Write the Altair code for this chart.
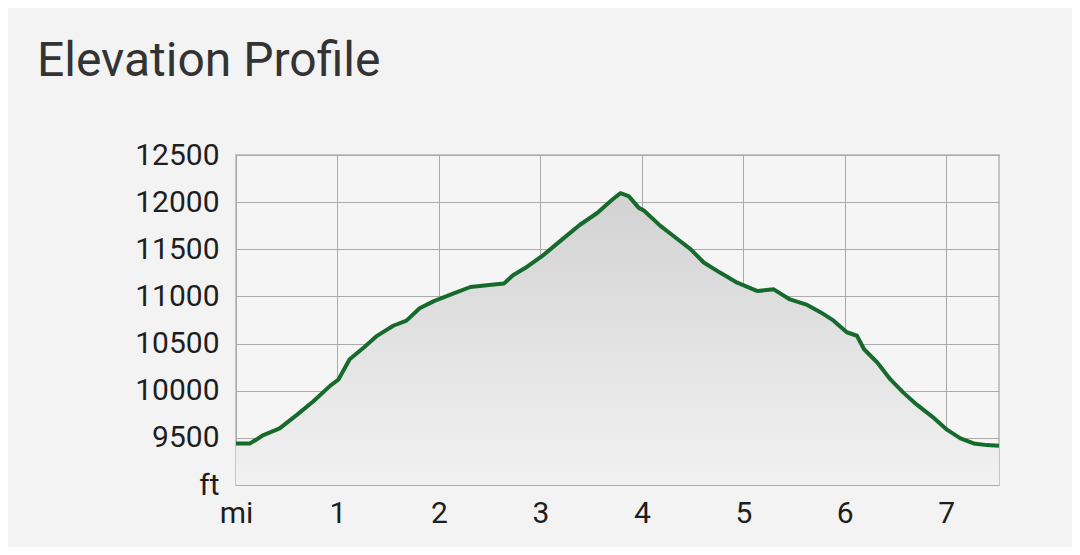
import altair as alt
import pandas as pd

# distance along trail (miles) and elevation (feet)
miles = [0.00, 0.14, 0.27, 0.43, 0.60, 0.76, 0.93, 1.01, 1.12, 1.26, 1.39, 1.55,
         1.68, 1.81, 1.95, 2.14, 2.31, 2.47, 2.64, 2.73, 2.87, 3.03, 3.23, 3.39,
         3.56, 3.71, 3.79, 3.87, 3.97, 4.02, 4.18, 4.35, 4.48, 4.61, 4.77, 4.94,
         5.14, 5.30, 5.46, 5.63, 5.76, 5.89, 6.02, 6.12, 6.19, 6.32, 6.45, 6.58,
         6.71, 6.88, 7.01, 7.14, 7.27, 7.40, 7.52]
elevation = [9440, 9441, 9530, 9600, 9744, 9886, 10054, 10119, 10333, 10458, 10582, 10689,
             10743, 10875, 10950, 11029, 11100, 11118, 11136, 11225, 11315, 11439, 11618, 11760,
             11885, 12028, 12095, 12064, 11939, 11911, 11751, 11609, 11502, 11360, 11253, 11146,
             11057, 11075, 10968, 10910, 10833, 10743, 10620, 10583, 10440, 10299, 10120, 9977,
             9852, 9709, 9584, 9495, 9441, 9423, 9416]

x_ticks = [0, 1, 2, 3, 4, 5, 6, 7]
y_ticks = [9000, 9500, 10000, 10500, 11000, 11500, 12000, 12500]
x_unit = "mi"
y_unit = "ft"
title_text = "Elevation Profile"

df = pd.DataFrame({"mi": miles, "ft": elevation})

FONT = "Roboto"

x_enc = alt.X(
    "mi:Q",
    scale=alt.Scale(domain=[0, 7.52], nice=False, zero=False),
    axis=alt.Axis(
        values=x_ticks,
        labelExpr=f"datum.value == 0 ? '{x_unit}' : datum.label",
        format="d",
        title=None,
        domain=False,
        ticks=False,
        labelPadding=13,
        labelFontSize=30,
        labelFont=FONT,
        labelColor="#1e1e1e",
        labelFlush=False,
        gridColor="#ababab",
        gridWidth=1,
    ),
)
y_enc = alt.Y(
    "ft:Q",
    scale=alt.Scale(domain=[9000, 12500], nice=False, zero=False),
    axis=alt.Axis(
        values=y_ticks,
        labelExpr=f"datum.value == 9000 ? '{y_unit}' : datum.label",
        format="d",
        title=None,
        domain=False,
        ticks=False,
        labelPadding=17,
        labelFontSize=30,
        labelFont=FONT,
        labelColor="#1e1e1e",
        gridColor="#ababab",
        gridWidth=1,
    ),
)

area = alt.Chart(df).mark_area(
    color=alt.Gradient(
        gradient="linear",
        stops=[
            alt.GradientStop(color="#d2d2d2", offset=0),
            alt.GradientStop(color="#e2e2e2", offset=0.5),
            alt.GradientStop(color="#f1f1f1", offset=1),
        ],
        x1=1, x2=1, y1=0, y2=1,
    ),
    opacity=1,
).encode(x=x_enc, y=y_enc, y2=alt.datum(9000))

line = alt.Chart(df).mark_line(color="#166a2b", strokeWidth=4, strokeJoin="round").encode(
    x="mi:Q", y="ft:Q"
)

chart = (
    alt.layer(area, line)
    .properties(
        width=763,
        height=330,
        autosize=alt.AutoSizeParams(type="none"),
        padding={"left": 228, "top": 147, "right": 73, "bottom": 62},
        background="#f3f3f3",
        title=alt.TitleParams(
            text=title_text,
            anchor="start",
            frame="group",
            fontSize=48,
            font=FONT,
            fontWeight="normal",
            color="#333333",
            baseline="alphabetic",
            dx=-199,
            dy=-12,
        ),
    )
    .configure_view(stroke="#c4c4c4", strokeWidth=2, fill="#f5f5f5")
)

chart.save("out.html", embed_options={"renderer": "svg", "actions": False})
